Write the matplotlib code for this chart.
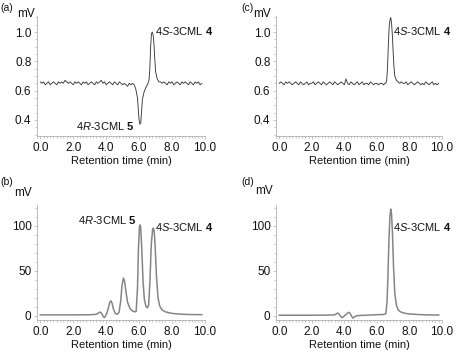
import matplotlib
matplotlib.use("Agg")
import matplotlib.pyplot as plt
from matplotlib.ticker import MultipleLocator

plt.rcParams["font.family"] = ["Liberation Sans", "DejaVu Sans"]
plt.rcParams["mathtext.fontset"] = "custom"
plt.rcParams["mathtext.rm"] = "Liberation Sans"
plt.rcParams["mathtext.it"] = "Liberation Sans:italic"
plt.rcParams["mathtext.bf"] = "Liberation Sans:bold"

# (a) racemic-ish trace, noisy detector signal (mV)
a_time = [0.0, 0.1, 0.2, 0.3, 0.4, 0.5, 0.6, 0.7, 0.8, 0.9,
          1.0, 1.1, 1.2, 1.3, 1.4, 1.5, 1.6, 1.7, 1.8, 1.9,
          2.0, 2.1, 2.2, 2.3, 2.4, 2.5, 2.6, 2.7, 2.8, 2.9,
          3.0, 3.1, 3.2, 3.3, 3.4, 3.5, 3.6, 3.7, 3.8, 3.9,
          4.0, 4.1, 4.2, 4.3, 4.4, 4.5, 4.6, 4.7, 4.8, 4.9,
          5.0, 5.1, 5.2, 5.3, 5.4, 5.5, 5.6,
          5.7, 5.8, 5.9, 5.95, 6.0, 6.05, 6.1, 6.15, 6.2, 6.3, 6.4, 6.5,
          6.6, 6.65, 6.7, 6.75, 6.8, 6.85, 6.9, 6.95, 7.0, 7.1, 7.2,
          7.3, 7.4, 7.5, 7.6, 7.7, 7.8, 7.9, 8.0, 8.1, 8.2, 8.3, 8.4, 8.5,
          8.6, 8.7, 8.8, 8.9, 9.0, 9.1, 9.2, 9.3, 9.4, 9.5, 9.6, 9.7, 9.8]
a_mv = [0.66, 0.65, 0.66, 0.64, 0.65, 0.66, 0.64, 0.65, 0.66, 0.65,
        0.64, 0.66, 0.65, 0.66, 0.65, 0.67, 0.66, 0.65, 0.66, 0.65,
        0.64, 0.66, 0.65, 0.66, 0.65, 0.64, 0.66, 0.65, 0.66, 0.64,
        0.65, 0.66, 0.65, 0.64, 0.66, 0.65, 0.66, 0.67, 0.65, 0.66,
        0.64, 0.65, 0.66, 0.65, 0.64, 0.66, 0.65, 0.64, 0.66, 0.65,
        0.64, 0.65, 0.64, 0.63, 0.65, 0.64, 0.65,
        0.64, 0.61, 0.55, 0.47, 0.40, 0.37, 0.38, 0.46, 0.54, 0.59, 0.62, 0.64,
        0.67, 0.75, 0.90, 0.99, 1.00, 0.98, 0.92, 0.82, 0.73, 0.68, 0.66,
        0.66, 0.65, 0.66, 0.65, 0.64, 0.66, 0.65, 0.66, 0.64, 0.65, 0.66, 0.65, 0.64,
        0.66, 0.65, 0.66, 0.65, 0.64, 0.66, 0.65, 0.64, 0.66, 0.65, 0.66, 0.64, 0.65]

# (c) single 4S peak, noisy
c_time = [0.0, 0.1, 0.2, 0.3, 0.4, 0.5, 0.6, 0.7, 0.8, 0.9,
          1.0, 1.1, 1.2, 1.3, 1.4, 1.5, 1.6, 1.7, 1.8, 1.9,
          2.0, 2.1, 2.2, 2.3, 2.4, 2.5, 2.6, 2.7, 2.8, 2.9,
          3.0, 3.1, 3.2, 3.3, 3.4, 3.5, 3.6, 3.7, 3.8, 3.9,
          4.0, 4.1, 4.2, 4.3, 4.4, 4.5, 4.6, 4.7, 4.8, 4.9,
          5.0, 5.1, 5.2, 5.3, 5.4, 5.5, 5.6, 5.7, 5.8, 5.9,
          6.0, 6.1, 6.2, 6.3, 6.4, 6.5,
          6.55, 6.6, 6.65, 6.7, 6.75, 6.8, 6.85, 6.9, 6.95, 7.0, 7.05, 7.1, 7.2,
          7.3, 7.4, 7.5, 7.6, 7.7, 7.8, 7.9, 8.0, 8.1, 8.2, 8.3, 8.4, 8.5,
          8.6, 8.7, 8.8, 8.9, 9.0, 9.1, 9.2, 9.3, 9.4, 9.5, 9.6, 9.7, 9.8]
c_mv = [0.65, 0.66, 0.65, 0.64, 0.66, 0.65, 0.66, 0.65, 0.64, 0.65,
        0.66, 0.65, 0.64, 0.66, 0.65, 0.64, 0.65, 0.66, 0.64, 0.65,
        0.65, 0.66, 0.64, 0.65, 0.66, 0.65, 0.64, 0.66, 0.65, 0.64,
        0.65, 0.66, 0.65, 0.64, 0.66, 0.65, 0.64, 0.65, 0.66, 0.65,
        0.64, 0.68, 0.65, 0.64, 0.66, 0.65, 0.64, 0.65, 0.66, 0.64,
        0.65, 0.66, 0.64, 0.65, 0.65, 0.64, 0.66, 0.65, 0.64, 0.65,
        0.65, 0.64, 0.65, 0.65, 0.64, 0.65,
        0.65, 0.67, 0.75, 0.90, 1.03, 1.08, 1.10, 1.06, 0.98, 0.86, 0.76, 0.70, 0.67,
        0.66, 0.65, 0.66, 0.65, 0.65, 0.66, 0.64, 0.65, 0.66, 0.65, 0.64, 0.65, 0.66,
        0.65, 0.64, 0.65, 0.64, 0.66, 0.65, 0.64, 0.65, 0.66, 0.64, 0.65, 0.64, 0.65]

# (b) mixture, smooth trace
b_time = [0.0, 1.0, 2.0, 3.0, 3.4, 3.5, 3.6, 3.65, 3.72, 3.8, 3.87, 3.95,
          4.05, 4.15, 4.22, 4.3, 4.36, 4.45, 4.55, 4.67, 4.78, 4.88, 4.96,
          5.05, 5.12, 5.2, 5.3, 5.45, 5.6, 5.75, 5.82, 5.9, 5.96, 6.02, 6.06,
          6.1, 6.16, 6.24, 6.32, 6.42, 6.5, 6.58, 6.66, 6.74, 6.82, 6.87,
          6.92, 6.98, 7.05, 7.15, 7.25, 7.4, 7.6, 8.0, 8.5, 9.0, 9.8]
b_mv = [1.2, 1.2, 1.2, 1.3, 1.8, 2.8, 4.0, 4.2, 3.0, 0.0, -1.8, -0.5,
        3.5, 10.0, 15.5, 16.7, 14.0, 7.0, 3.0, 1.8, 4.0, 16.0, 34.0,
        42.0, 38.0, 27.0, 15.0, 8.0, 5.5, 4.5, 5.0, 30.0, 75.0, 99.0, 101.0,
        97.0, 75.0, 38.0, 18.0, 10.5, 9.0, 12.0, 40.0, 80.0, 96.0, 97.4,
        93.0, 75.0, 45.0, 20.0, 11.0, 6.5, 4.5, 2.8, 2.0, 1.6, 1.4]

# (d) single 4S peak, smooth trace
d_time = [0.0, 1.0, 2.0, 3.0, 3.4, 3.5, 3.58, 3.66, 3.75, 3.84, 3.95,
          4.1, 4.2, 4.28, 4.36, 4.45, 4.53, 4.62, 4.75, 5.0, 5.5, 6.0,
          6.4, 6.55, 6.62, 6.68, 6.74, 6.8, 6.85, 6.9, 6.96, 7.02, 7.1,
          7.2, 7.3, 7.45, 7.7, 8.0, 8.5, 9.0, 9.8]
d_mv = [0.8, 0.8, 0.8, 0.9, 1.2, 2.2, 3.2, 2.6, 0.0, -1.8, -0.8,
        1.5, 3.2, 4.0, 2.8, -0.5, -2.4, -1.0, 0.3, 0.6, 0.9, 1.4,
        1.6, 2.5, 15.0, 45.0, 85.0, 110.0, 118.5, 113.0, 90.0, 55.0, 25.0,
        12.0, 7.0, 4.5, 3.0, 2.2, 1.6, 1.2, 1.0]

x_ticks = [0.0, 2.0, 4.0, 6.0, 8.0, 10.0]
S_LABEL = r"4$\mathit{S}$-3CML $\mathbf{4}$"
R_LABEL = r"4$\mathit{R}$-3CML $\mathbf{5}$"

W, H = 458, 355
fig = plt.figure(figsize=(W / 100, H / 100), dpi=100)


def px_axes(left, top, right, bottom):
    return fig.add_axes([left / W, 1 - bottom / H, (right - left) / W, (bottom - top) / H])


def style(ax, ylim, yticks, yfmt, yminor):
    ax.set_xlim(-0.2, 10.0)
    ax.set_ylim(*ylim)
    ax.set_xticks(x_ticks)
    ax.set_xticklabels([f"{t:.1f}" for t in x_ticks])
    ax.xaxis.set_minor_locator(MultipleLocator(0.2))
    ax.set_yticks(yticks)
    ax.set_yticklabels([yfmt.format(v) for v in yticks])
    ax.yaxis.set_minor_locator(MultipleLocator(yminor))
    for side in ("top", "right"):
        ax.spines[side].set_visible(False)
    for side in ("left", "bottom"):
        ax.spines[side].set_color("#b0b0b0")
        ax.spines[side].set_linewidth(0.6)
    ax.tick_params(which="both", color="#b0b0b0", width=0.5, labelsize=8.5,
                   labelcolor="#111111")
    ax.tick_params(which="major", length=2.0, pad=2)
    ax.tick_params(which="minor", length=1.2)
    ax.set_xlabel("Retention time (min)", fontsize=8, labelpad=1.5, color="#111111")


ax_a = px_axes(37, 16, 205, 136)
ax_c = px_axes(276, 16, 442, 136)
ax_b = px_axes(37, 205, 205, 320)
ax_d = px_axes(276, 205, 442, 320)

ax_a.plot(a_time, a_mv, color="#3a3a3a", lw=0.65)
ax_c.plot(c_time, c_mv, color="#3a3a3a", lw=0.65)
ax_b.plot(b_time, b_mv, color="#858585", lw=1.1)
ax_d.plot(d_time, d_mv, color="#858585", lw=1.1)

for ax in (ax_a, ax_c):
    style(ax, (0.29, 1.11), [0.4, 0.6, 0.8, 1.0], "{:.1f}", 0.05)
for ax in (ax_b, ax_d):
    style(ax, (-4.5, 123), [0, 50, 100], "{:d}", 10)

lab = dict(fontsize=8, color="#111111", va="center")
ax_a.text(6.95, 1.01, S_LABEL, ha="left", **lab)
ax_a.text(5.7, 0.36, R_LABEL, ha="right", **lab)
ax_c.text(7.0, 1.01, S_LABEL, ha="left", **lab)
ax_b.text(5.85, 106, R_LABEL, ha="right", **lab)
ax_b.text(6.95, 99, S_LABEL, ha="left", **lab)
ax_d.text(7.0, 98.5, S_LABEL, ha="left", **lab)

# panel letters and unit labels
for letter, lx, ly, ux, uy in [("(a)", 0, 8, 17, 14), ("(c)", 241, 8, 253, 14),
                               ("(b)", 0, 182, 14, 193), ("(d)", 241, 182, 255, 191)]:
    fig.text(lx / W, 1 - ly / H, letter, fontsize=7.5, ha="left", va="center", color="#111111")
    fig.text(ux / W, 1 - uy / H, "mV", fontsize=8.5, ha="left", va="center", color="#111111")

fig.savefig("out.png", dpi=100)
